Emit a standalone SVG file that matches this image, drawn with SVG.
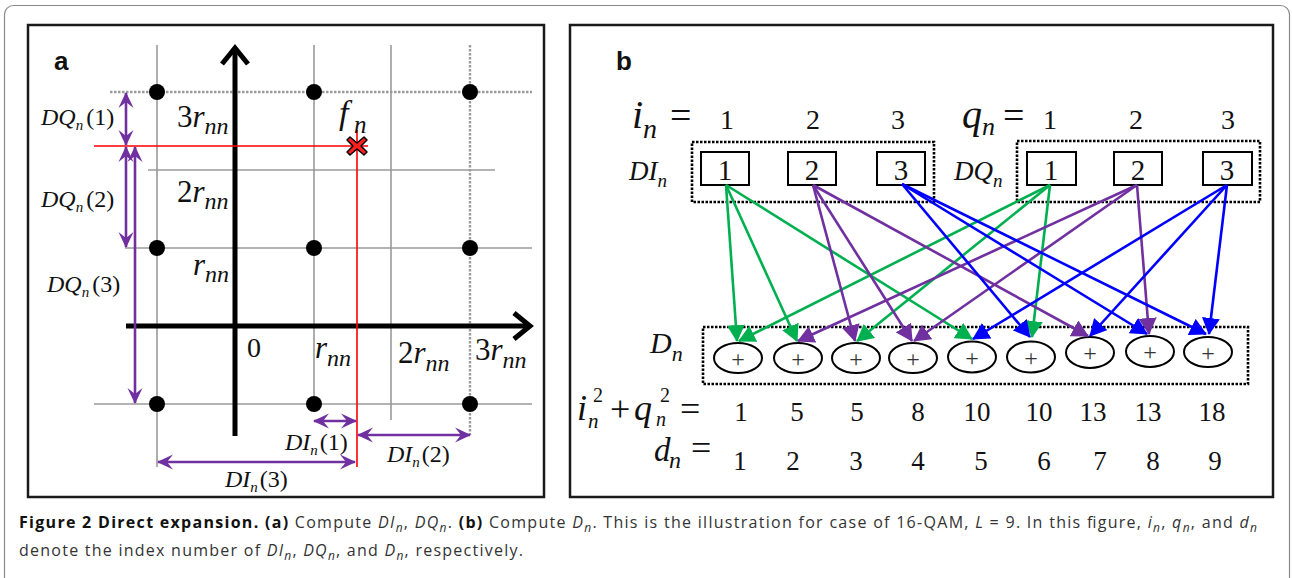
<svg xmlns="http://www.w3.org/2000/svg" width="1292" height="578" viewBox="0 0 1292 578">
<style>
.frame{fill:none;stroke:#1a1a1a;stroke-width:2.5}
.grid{stroke:#9a9a9a;stroke-width:1.6;fill:none}
.gdot{stroke:#9a9a9a;stroke-width:2.4;stroke-dasharray:2.5 1.5;fill:none}
.axis{stroke:#000;stroke-width:5;fill:none}
.red{stroke:#ff0000;stroke-width:1.6;fill:none}
.dim{stroke:#7030A0;stroke-width:2.6;fill:none;marker-start:url(#pa);marker-end:url(#pa)}
.m{font-family:"Liberation Serif","Times New Roman",serif;fill:#111}
.it{font-style:italic}
.lbl{font-family:"Liberation Sans",Arial,sans-serif;font-weight:bold;fill:#111}
.box{fill:#fff;stroke:#000;stroke-width:2}
.dots{fill:none;stroke:#000;stroke-width:2.6;stroke-dasharray:2.5 1.5}
.ell{fill:#fff;stroke:#000;stroke-width:2}
.plus{font-family:"Liberation Serif",serif;font-size:24px;fill:#333;text-anchor:middle}
.g{stroke:#00B050;stroke-width:2.6;fill:none;marker-end:url(#ag)}
.p{stroke:#7030A0;stroke-width:2.6;fill:none;marker-end:url(#ap)}
.b{stroke:#0000FF;stroke-width:2.6;fill:none;marker-end:url(#ab)}
.cap{font-family:"Open Sans","Liberation Sans",sans-serif;font-size:16px;fill:#333}
</style>
<defs>
<marker id="pa" viewBox="-17 -8 18 16" refX="0" refY="0" markerWidth="18" markerHeight="16" markerUnits="userSpaceOnUse" orient="auto-start-reverse"><path d="M1,0 L-15,-7.5 L-9,0 L-15,7.5 Z" fill="#7030A0"/></marker>
<marker id="ag" viewBox="0 0 17 18" refX="16" refY="9" markerWidth="17" markerHeight="18" markerUnits="userSpaceOnUse" orient="auto"><path d="M0,0 L17,9 L0,18 Z" fill="#00B050"/></marker>
<marker id="ap" viewBox="0 0 17 18" refX="16" refY="9" markerWidth="17" markerHeight="18" markerUnits="userSpaceOnUse" orient="auto"><path d="M0,0 L17,9 L0,18 Z" fill="#7030A0"/></marker>
<marker id="ab" viewBox="0 0 17 18" refX="16" refY="9" markerWidth="17" markerHeight="18" markerUnits="userSpaceOnUse" orient="auto"><path d="M0,0 L17,9 L0,18 Z" fill="#0000FF"/></marker>
</defs>
<rect x="0" y="0" width="1292" height="578" fill="#fff"/>
<rect x="4.5" y="5.5" width="1285" height="582" rx="9" fill="none" stroke="#8a8a8a" stroke-width="1.2"/>

<g id="panel-a">
<rect class="frame" x="28" y="25" width="516" height="472"/>
<text class="lbl" x="54" y="70" font-size="26">a</text>
<path class="gdot" d="M110,92 H532 M470,45 V435"/>
<path class="grid" d="M148,170 H495 M125,248 H532 M94,404 H532 M157,45 V467 M314,45 V404 M391,45 V420"/>
<path class="axis" d="M235,48 V436 M126,326 H530"/>
<path class="axis" d="M222,64 L235,48 L248,64 M514,313 L530,326 L514,339" stroke-linejoin="miter"/>
<path class="red" d="M94,146 H368 M357,130 V467"/>
<g fill="#000">
<circle cx="157" cy="92" r="8"/><circle cx="314" cy="92" r="8"/><circle cx="470" cy="92" r="8"/>
<circle cx="157" cy="248" r="8"/><circle cx="314" cy="248" r="8"/><circle cx="470" cy="248" r="8"/>
<circle cx="157" cy="404" r="8"/><circle cx="314" cy="404" r="8"/><circle cx="470" cy="404" r="8"/>
</g>
<g id="fn">
<path d="M350,137 L357,143 L364,137 L367,140 L361,146 L367,152 L364,155 L357,149 L350,155 L347,152 L353,146 L347,140 Z" fill="#ff2020" stroke="#000" stroke-width="1.5" stroke-linejoin="round"/>
<text class="m it" x="339" y="124" font-size="34">f</text>
<text class="m it" x="354" y="133" font-size="25">n</text>
</g>
<text class="m" x="177" y="127" font-size="31">3<tspan class="it">r</tspan><tspan class="it" font-size="24" dy="7">nn</tspan></text>
<text class="m" x="177" y="202" font-size="31">2<tspan class="it">r</tspan><tspan class="it" font-size="24" dy="7">nn</tspan></text>
<text class="m" x="193" y="275" font-size="31"><tspan class="it">r</tspan><tspan class="it" font-size="24" dy="7">nn</tspan></text>
<text class="m" x="247" y="357" font-size="28">0</text>
<text class="m" x="315" y="358" font-size="31"><tspan class="it">r</tspan><tspan class="it" font-size="24" dy="8">nn</tspan></text>
<text class="m" x="398" y="363" font-size="31">2<tspan class="it">r</tspan><tspan class="it" font-size="24" dy="8">nn</tspan></text>
<text class="m" x="475" y="360" font-size="31">3<tspan class="it">r</tspan><tspan class="it" font-size="24" dy="8">nn</tspan></text>
<path class="dim" d="M126,93 V145"/>
<path class="dim" d="M126,147 V247"/>
<path class="dim" d="M135,147 V403"/>
<path class="dim" d="M314,421 H356"/>
<path class="dim" d="M358,435 H470"/>
<path class="dim" d="M158,462 H355"/>
<text class="m" x="41" y="125" font-size="24"><tspan class="it">DQ</tspan><tspan class="it" font-size="15" dy="5">n</tspan><tspan dx="3" dy="-5">(1)</tspan></text>
<text class="m" x="41" y="207" font-size="24"><tspan class="it">DQ</tspan><tspan class="it" font-size="15" dy="5">n</tspan><tspan dx="3" dy="-5">(2)</tspan></text>
<text class="m" x="47" y="292" font-size="24"><tspan class="it">DQ</tspan><tspan class="it" font-size="15" dy="5">n</tspan><tspan dx="3" dy="-5">(3)</tspan></text>
<text class="m" x="285" y="450" font-size="24"><tspan class="it">DI</tspan><tspan class="it" font-size="15" dy="5">n</tspan><tspan dx="2" dy="-5">(1)</tspan></text>
<text class="m" x="387" y="462" font-size="24"><tspan class="it">DI</tspan><tspan class="it" font-size="15" dy="5">n</tspan><tspan dx="2" dy="-5">(2)</tspan></text>
<text class="m" x="225" y="487" font-size="24"><tspan class="it">DI</tspan><tspan class="it" font-size="15" dy="5">n</tspan><tspan dx="2" dy="-5">(3)</tspan></text>
</g>

<g id="panel-b">
<rect class="frame" x="570" y="25" width="703" height="472"/>
<text class="lbl" x="616" y="70" font-size="26">b</text>
<g id="row-i">
<text class="m it" x="632" y="128" font-size="40">i</text>
<text class="m it" x="643" y="138" font-size="28">n</text>
<text class="m" x="670" y="128" font-size="38">=</text>
<text class="m" x="727" y="129" font-size="28" text-anchor="middle">1</text>
<text class="m" x="813" y="129" font-size="28" text-anchor="middle">2</text>
<text class="m" x="898" y="129" font-size="28" text-anchor="middle">3</text>
</g>
<g id="row-q">
<text class="m it" x="962" y="128" font-size="40">q</text>
<text class="m it" x="982" y="135" font-size="26">n</text>
<text class="m" x="1003" y="128" font-size="38">=</text>
<text class="m" x="1050" y="129" font-size="28" text-anchor="middle">1</text>
<text class="m" x="1136" y="129" font-size="28" text-anchor="middle">2</text>
<text class="m" x="1228" y="129" font-size="28" text-anchor="middle">3</text>
</g>
<text class="m" x="629" y="180" font-size="27"><tspan class="it">DI</tspan><tspan class="it" font-size="19" dy="7">n</tspan></text>
<text class="m" x="954" y="180" font-size="27"><tspan class="it">DQ</tspan><tspan class="it" font-size="19" dy="7">n</tspan></text>
<rect class="dots" x="692" y="142" width="242" height="60"/>
<rect class="dots" x="1017" y="141" width="243" height="61"/>
<g id="DI1"><rect class="box" x="701" y="152" width="48" height="33"/><text class="m" x="725" y="180" font-size="29" text-anchor="middle">1</text></g>
<g id="DI2"><rect class="box" x="788" y="152" width="48" height="33"/><text class="m" x="812" y="180" font-size="29" text-anchor="middle">2</text></g>
<g id="DI3"><rect class="box" x="877" y="152" width="48" height="33"/><text class="m" x="901" y="180" font-size="29" text-anchor="middle">3</text></g>
<g id="DQ1"><rect class="box" x="1027" y="152" width="49" height="33"/><text class="m" x="1051" y="180" font-size="29" text-anchor="middle">1</text></g>
<g id="DQ2"><rect class="box" x="1114" y="152" width="48" height="33"/><text class="m" x="1138" y="180" font-size="29" text-anchor="middle">2</text></g>
<g id="DQ3"><rect class="box" x="1203" y="152" width="49" height="33"/><text class="m" x="1227" y="180" font-size="29" text-anchor="middle">3</text></g>

<text class="m" x="650" y="353" font-size="30"><tspan class="it">D</tspan><tspan class="it" font-size="22" dy="8">n</tspan></text>
<rect class="dots" x="703" y="327" width="545" height="57"/>
<g id="D1"><ellipse class="ell" cx="738" cy="358" rx="24" ry="15"/><text class="plus" x="738" y="367">+</text></g>
<g id="D2"><ellipse class="ell" cx="798" cy="358" rx="24" ry="15"/><text class="plus" x="798" y="367">+</text></g>
<g id="D3"><ellipse class="ell" cx="856" cy="358" rx="24" ry="15"/><text class="plus" x="856" y="367">+</text></g>
<g id="D4"><ellipse class="ell" cx="913" cy="358" rx="24" ry="15"/><text class="plus" x="913" y="367">+</text></g>
<g id="D5"><ellipse class="ell" cx="972" cy="357" rx="24" ry="15.5"/><text class="plus" x="972" y="366">+</text></g>
<g id="D6"><ellipse class="ell" cx="1031" cy="357" rx="24" ry="15.5"/><text class="plus" x="1031" y="366">+</text></g>
<g id="D7"><ellipse class="ell" cx="1090" cy="352.5" rx="24" ry="15.5"/><text class="plus" x="1090" y="361">+</text></g>
<g id="D8"><ellipse class="ell" cx="1150" cy="351.5" rx="24" ry="15.5"/><text class="plus" x="1150" y="360">+</text></g>
<g id="D9"><ellipse class="ell" cx="1208" cy="352" rx="24" ry="15"/><text class="plus" x="1208" y="361">+</text></g>

<g id="row-sum">
<text class="m it" x="577" y="420" font-size="36">i</text>
<text class="m it" x="588" y="428" font-size="21">n</text>
<text class="m" x="593" y="402" font-size="20">2</text>
<text class="m" x="610" y="421" font-size="36">+</text>
<text class="m it" x="634" y="420" font-size="36">q</text>
<text class="m it" x="656" y="426" font-size="20">n</text>
<text class="m" x="660" y="402" font-size="20">2</text>
<text class="m" x="680" y="421" font-size="36">=</text>
<text class="m" x="741" y="421" text-anchor="middle" font-size="27">1</text>
<text class="m" x="797" y="421" text-anchor="middle" font-size="27">5</text>
<text class="m" x="857" y="421" text-anchor="middle" font-size="27">5</text>
<text class="m" x="918" y="421" text-anchor="middle" font-size="27">8</text>
<text class="m" x="977" y="421" text-anchor="middle" font-size="27">10</text>
<text class="m" x="1039" y="421" text-anchor="middle" font-size="27">10</text>
<text class="m" x="1093" y="421" text-anchor="middle" font-size="27">13</text>
<text class="m" x="1148" y="421" text-anchor="middle" font-size="27">13</text>
<text class="m" x="1212" y="421" text-anchor="middle" font-size="27">18</text>
</g>
<g id="row-d">
<text class="m it" x="654" y="461" font-size="33">d</text>
<text class="m it" x="669" y="468" font-size="24">n</text>
<text class="m" x="691" y="460" font-size="36">=</text>
<text class="m" x="740" y="470" text-anchor="middle" font-size="27">1</text>
<text class="m" x="793" y="470" text-anchor="middle" font-size="27">2</text>
<text class="m" x="856" y="470" text-anchor="middle" font-size="27">3</text>
<text class="m" x="918" y="470" text-anchor="middle" font-size="27">4</text>
<text class="m" x="981" y="470" text-anchor="middle" font-size="27">5</text>
<text class="m" x="1044" y="470" text-anchor="middle" font-size="27">6</text>
<text class="m" x="1100" y="470" text-anchor="middle" font-size="27">7</text>
<text class="m" x="1153" y="470" text-anchor="middle" font-size="27">8</text>
<text class="m" x="1215" y="470" text-anchor="middle" font-size="27">9</text>
</g>
</g>

<g id="connectors">
<path class="g" d="M726,185 L737,341"/>
<path class="g" d="M726,185 L797,341"/>
<path class="g" d="M726,185 L972,339"/>
<path class="g" d="M1050,185 L739,341"/>
<path class="g" d="M1050,185 L857,341"/>
<path class="g" d="M1050,185 L1032,337"/>
<path class="p" d="M813,185 L855,341"/>
<path class="p" d="M813,185 L912,341"/>
<path class="p" d="M813,185 L1088,336"/>
<path class="p" d="M1137,185 L798,341"/>
<path class="p" d="M1137,185 L914,341"/>
<path class="p" d="M1137,185 L1149,334"/>
<path class="b" d="M902,184 L1030,337"/>
<path class="b" d="M902,184 L1147,334"/>
<path class="b" d="M902,184 L1206,334"/>
<path class="b" d="M1227,185 L973,339"/>
<path class="b" d="M1227,185 L1090,336"/>
<path class="b" d="M1227,185 L1209,334"/>
</g>

<g id="caption">
<text class="cap" x="19" y="528" textLength="1238" lengthAdjust="spacing"><tspan font-weight="bold" fill="#111">Figure 2 Direct expansion. (a)</tspan> Compute <tspan font-style="italic">DI</tspan><tspan font-style="italic" font-size="12" dy="4">n</tspan><tspan dy="-4">, </tspan><tspan font-style="italic">DQ</tspan><tspan font-style="italic" font-size="12" dy="4">n</tspan><tspan dy="-4">. </tspan><tspan font-weight="bold" fill="#111">(b)</tspan> Compute <tspan font-style="italic">D</tspan><tspan font-style="italic" font-size="12" dy="4">n</tspan><tspan dy="-4">. This is the illustration for case of 16-QAM, </tspan><tspan font-style="italic">L</tspan> = 9. In this figure, <tspan font-style="italic">i</tspan><tspan font-style="italic" font-size="12" dy="4">n</tspan><tspan dy="-4">, </tspan><tspan font-style="italic">q</tspan><tspan font-style="italic" font-size="12" dy="4">n</tspan><tspan dy="-4">, and </tspan><tspan font-style="italic">d</tspan><tspan font-style="italic" font-size="12" dy="4">n</tspan></text>
<text class="cap" x="19" y="556" textLength="504" lengthAdjust="spacing">denote the index number of <tspan font-style="italic">DI</tspan><tspan font-style="italic" font-size="12" dy="4">n</tspan><tspan dy="-4">, </tspan><tspan font-style="italic">DQ</tspan><tspan font-style="italic" font-size="12" dy="4">n</tspan><tspan dy="-4">, and </tspan><tspan font-style="italic">D</tspan><tspan font-style="italic" font-size="12" dy="4">n</tspan><tspan dy="-4">, respectively.</tspan></text>
</g>
</svg>
